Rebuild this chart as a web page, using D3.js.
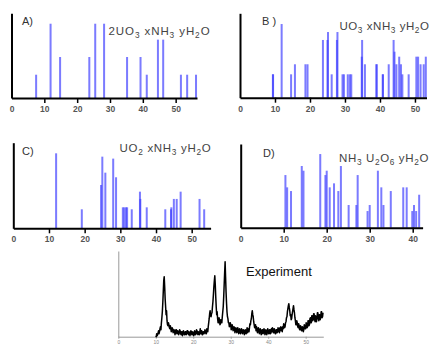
<!DOCTYPE html>
<html lang="en">
<head>
<meta charset="UTF-8">
<title>XRD patterns</title>
<script src="https://d3js.org/d3.v7.min.js"></script>
<style>
  body { margin: 0; padding: 0; background: #fff; }
  svg { display: block; font-family: Arial, "Liberation Sans", sans-serif; }
  .axis path, .axis line { stroke: #000; stroke-width: 2px; }
  .axis line { stroke-width: 1.5px; }
  .axis text { font-family: "Liberation Sans Narrow", "Arial Narrow", Arial, sans-serif; font-size: 8.5px; fill: #555; font-weight: bold; }
  .exp .axis path, .exp .axis line { stroke: #999; stroke-width: 1px; }
  .exp .axis text { font-size: 5px; fill: #888; font-weight: normal; }
</style>
</head>
<body>
<svg id="chart" width="432" height="347"></svg>
<script>
// calculated patterns: [2theta, relative intensity]
const peaksA = [[7.5, 27.5], [11.9, 87.7], [14.8, 48.4], [23.7, 48.4], [25.5, 87.7], [28.2, 87.7],
  [35.2, 48.4], [39.3, 48.4], [41.2, 27.5], [44.6, 68.9], [46.2, 68.9], [51.6, 27.5], [53.5, 27.5], [56.2, 27.5]];

const peaksB = [[9.4, 27.7], [9.45, 27.7], [11.9, 87.3], [14.6, 27.7], [15.7, 39.6], [18.7, 39.6], [19.3, 39.6],
  [23.7, 68.4], [25.0, 68.4], [25.15, 77.8], [26.2, 27.7], [27.7, 68.4], [27.85, 77.8],
  [29.3, 27.7], [29.7, 27.7], [30.8, 27.7], [31.4, 27.7], [31.8, 27.7],
  [34.8, 48.6], [34.9, 68.4], [35.7, 39.6], [39.0, 39.6], [39.05, 39.6], [40.8, 27.7], [40.85, 27.7],
  [42.5, 39.6], [43.9, 68.4], [44.15, 54.5], [44.7, 39.6], [45.5, 48.6], [46.0, 39.6], [46.4, 27.7],
  [48.2, 27.7], [50.4, 48.6], [50.9, 48.6], [51.6, 39.6], [52.5, 39.6], [53.1, 48.6]];

const peaksC = [[12.0, 87.6], [19.2, 22.2], [24.6, 50.6], [24.95, 83.7], [25.8, 65], [28.0, 81.4], [28.8, 59.6],
  [30.7, 24.5], [31.1, 24.5], [31.6, 24.5], [31.9, 24.5], [33.2, 22.2], [35.5, 42.8], [35.6, 34.3],
  [37.4, 24.5], [42.6, 22.2], [44.2, 22.2], [44.3, 24.5], [45.0, 34.3], [45.8, 34.3], [46.9, 42.8],
  [52.2, 34.3], [53.5, 22.2]];

const peaksD = [[10.4, 62.9], [10.8, 48.2], [11.7, 43.8], [14.2, 73.7], [14.6, 68.1], [18.5, 88],
  [19.7, 62.9], [20.0, 68.1], [20.7, 48.2], [21.7, 53], [22.7, 43.8], [23.3, 73.7], [25.1, 27.1],
  [26.9, 27.1], [27.2, 62.9], [29.5, 19.9], [30.0, 27.1], [31.9, 68.1], [32.7, 48.2], [33.2, 27.1],
  [34.9, 43.8], [37.8, 48.2], [38.6, 48.2], [39.9, 19.9], [40.3, 27.1], [40.8, 19.9], [41.5, 39.4]];

// measured pattern, 2theta from 10.0 in steps of 0.125
const expStart = 10, expStep = 0.125;
const expCounts = [
  1, 0, 3, 1, 2, 4, 6, 3, 5, 8, 10, 7, 14, 19, 25, 34, 45, 56, 60, 50, 38, 30, 22, 26, 16, 12, 11, 14, 12, 9, 8, 11, 9, 5, 6, 9, 8, 4, 5, 7,
  6, 2, 4, 7, 7, 3, 3, 6, 5, 2, 4, 7, 6, 3, 2, 5, 5, 1, 3, 6, 4, 2, 2, 5, 5, 2, 3, 6, 6, 3, 2, 5, 4, 1, 3, 6, 5, 2, 2, 5,
  4, 1, 2, 6, 5, 2, 3, 7, 6, 3, 2, 5, 4, 2, 5, 8, 3, 6, 6, 2, 2, 5, 5, 3, 4, 7, 6, 3, 3, 8, 7, 5, 10, 14, 18, 23, 26, 21, 20, 23,
  24, 30, 35, 42, 50, 56, 61, 52, 40, 30, 22, 25, 18, 14, 14, 19, 17, 12, 13, 17, 16, 14, 20, 25, 30, 40, 52, 64, 75, 60, 45, 34, 25, 20, 18, 14, 14, 10, 11, 14,
  12, 7, 8, 12, 10, 6, 7, 10, 9, 4, 6, 9, 8, 4, 5, 9, 7, 3, 4, 8, 6, 3, 5, 8, 7, 3, 4, 7, 6, 2, 3, 7, 5, 3, 6, 9, 4, 8, 7, 5,
  9, 13, 12, 16, 18, 23, 26, 22, 20, 15, 12, 9, 9, 12, 6, 10, 8, 4, 5, 9, 7, 3, 4, 8, 6, 2, 3, 7, 7, 3, 4, 8, 6, 2, 3, 7, 5, 2, 4, 8,
  6, 3, 3, 7, 7, 3, 4, 8, 5, 9, 8, 4, 4, 8, 6, 3, 3, 7, 7, 4, 5, 9, 8, 5, 4, 9, 6, 10, 9, 6, 5, 10, 8, 13, 12, 9, 10, 14, 15, 19,
  20, 25, 28, 31, 33, 29, 26, 21, 22, 17, 18, 22, 25, 28, 31, 27, 24, 19, 16, 12, 12, 16, 14, 10, 9, 13, 11, 7, 7, 11, 10, 6, 6, 10, 9, 5, 7, 12, 11, 8,
  8, 14, 13, 9, 10, 16, 16, 11, 12, 18, 19, 14, 14, 21, 21, 16, 17, 23, 23, 17, 15, 21, 20, 15, 18, 24, 24, 18, 16, 22, 22, 17, 19, 25, 25, 19, 20, 24
];

const tickValues = [0, 10, 20, 30, 40, 50];
const labels = ["A)", "B )", "C)", "D)"];
const formulas = ["2UO_3 xNH_3 yH_2O", "UO_3 xNH_3 yH_2O", "UO_2 xNH_3 yH_2O", "NH_3 U_2O_6 yH_2O"];

const svg = d3.select("#chart");

// panel frames (pixel boxes)
const panels = [
  { peaks: peaksA, xMax: 56.5, x0: 11.5, x1: 197, top: 13.3, base: 98, lx: 22, ly: 25, fx: 108.5, fy: 35.3, fw: 102 },
  { peaks: peaksB, xMax: 53.3, x0: 240, x1: 426.5, top: 13.3, base: 97.7, lx: 262, ly: 25, fx: 339.5, fy: 30, fw: 90 },
  { peaks: peaksC, xMax: 55.3, x0: 13.3, x1: 210.6, top: 142.7, base: 228.3, lx: 22, ly: 155, fx: 119.5, fy: 152, fw: 92 },
  { peaks: peaksD, xMax: 42.3, x0: 240.7, x1: 422.6, top: 144, base: 227.7, lx: 263, ly: 157, fx: 339, fy: 162, fw: 90 }
];

function addFormula(g, str, x, y, size, width) {
  const t = g.append("text").attr("x", x).attr("y", y)
    .style("font-size", size + "px").style("fill", "#444");
  let sub = false, chars = 0;
  str.split(/(_\d)/).filter(s => s.length).forEach(s => {
    if (s[0] === "_") {
      t.append("tspan").text(s.slice(1)).style("font-size", (size * 0.72) + "px").attr("dy", 3);
      sub = true;
      chars += 1;
    } else {
      t.append("tspan").text(s).attr("dy", sub ? -3 : 0);
      sub = false;
      chars += s.length;
    }
  });
  // the original glyphs run wider, so open up the letters to fill the slot
  const len = t.node().getComputedTextLength();
  if (width > len) t.style("letter-spacing", ((width - len) / chars) + "px");
}

panels.forEach((p, i) => {
  const g = svg.append("g");
  const x = d3.scaleLinear().domain([0, p.xMax]).range([p.x0, p.x1]);
  const y = d3.scaleLinear().domain([0, 100]).range([p.base, p.top]);

  g.selectAll("rect.peak")
    .data(p.peaks)
    .enter().append("rect")
    .attr("class", "peak")
    .attr("x", d => x(d[0]) - 1)
    .attr("width", 2)
    .attr("y", d => y(d[1]))
    .attr("height", d => p.base - y(d[1]))
    .attr("fill", "#3c3cff")
    .attr("fill-opacity", 0.68);

  const xAxis = g.append("g").attr("class", "axis")
    .attr("transform", "translate(0," + p.base + ")")
    .call(d3.axisBottom(x).tickValues(tickValues.filter(v => v <= p.xMax)).tickSize(5).tickPadding(3).tickSizeOuter(0));
  xAxis.selectAll(".tick").filter(d => d === 0).select("line").remove();

  g.append("g").attr("class", "axis")
    .attr("transform", "translate(" + p.x0 + ",0)")
    .call(d3.axisLeft(y).tickValues([]).tickSizeOuter(0));

  g.append("text").attr("x", p.lx).attr("y", p.ly).text(labels[i])
    .style("font-size", "11px").style("fill", "#333");
  addFormula(g, formulas[i], p.fx, p.fy, 11.5, p.fw);
});

// experiment panel
const ge = svg.append("g").attr("class", "exp");
const ex = d3.scaleLinear().domain([0, 54.7]).range([118.3, 323.3]);
const ey = d3.scaleLinear().domain([0, 85.7]).range([336.7, 251]);

ge.append("g").attr("class", "axis")
  .attr("transform", "translate(0,336.7)")
  .call(d3.axisBottom(ex).tickValues(tickValues).tickSize(2).tickPadding(2).tickSizeOuter(0));
ge.append("g").attr("class", "axis")
  .attr("transform", "translate(118.3,0)")
  .call(d3.axisLeft(ey).tickValues([]).tickSizeOuter(0));

ge.append("path")
  .datum(expCounts)
  .attr("fill", "none")
  .attr("stroke", "#000")
  .attr("stroke-width", 1.5)
  .attr("stroke-linejoin", "round")
  .attr("d", d3.line().x((d, i) => ex(expStart + i * expStep)).y(d => ey(d)));

ge.append("text").attr("x", 246).attr("y", 276).text("Experiment")
  .style("font-size", "13px").style("fill", "#111");
</script>
</body>
</html>
